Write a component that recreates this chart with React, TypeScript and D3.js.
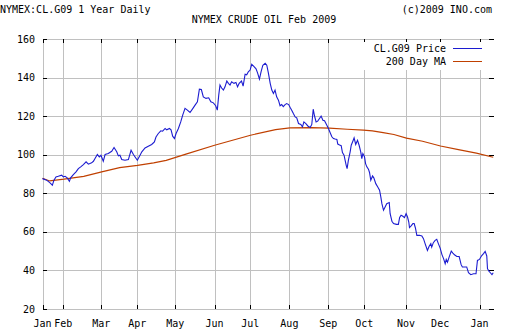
import React from "react";
import * as d3 from "d3";

// Trading-day index (0 = first session shown) and settle price
const priceDay = [0,2.3,4.2,5.5,6.4,7.5,8.8,10.7,11.6,12.6,13.8,15,15.7,17.2,18.7,20,21.3,22.8,24.3,25.6,27.4,28.4,29.3,30.6,31.7,32.6,33.9,34.9,36.7,38.6,39.9,41.4,42.3,43.2,44.2,46,47.9,49.4,50.7,52.9,54.4,55.4,57.2,59,60.9,62.4,63.3,64.6,66,67,68.4,
69.3,70.8,71.7,72.6,73.6,74.5,75.8,77.1,78.2,79.5,80.8,82.3,83.8,85.1,86.4,87.5,88.6,89.7,91.2,92.7,93.9,95.3,96.6,97.5,98.3,99,99.9,100.9,101.8,102.8,103.7,104.6,105.5,106.8,107.9,108.8,109.7,111,111.9,113,113.9,114.8,115.8,116.7,118,119.1,120,121,121.9,122.9,124.2,125.1,126,127,127.9,128.8,129.7,130.6,131.6,132.5,133.4,134.3,135.3,136.2,137.3,138.3,139,140,140.9,141.8,142.8,144.1,145,145.8,146.9,148,149.3,150.2,151,151.7,152.6,153.5,154.5,155.4,156.4,157.3,158.6,159.5,160.4,161.4,162.3,163.2,164.2,164.7,165.7,166.6,167.3,168.2,168.8,169.4,169.9,170.6,171.6,172.2,173.1,173.8,174.7,175.7,176.6,177.5,178.1,178.7,179.6,180.2,180.9,181.8,182.4,183.1,184.1,184.8,185.9,187,188,188.7,189.3,190.2,191.1,192,193.4,193.9,194.9,195.8,197.4,198.5,199.2,200,201,201.9,202.8,203.6,204.3,204.7,205.6,206.6,207.3,208,208.8,210.3,211.6,212.5,213.4,214.7,215.6,216.6,217.1,218,219,219.9,220.8,221.8,222.8,223.7,224.6,225.2,225.9,226.8,228,228.9,229.8,231.1,232.4,233.5,234.2,235.3,236.6,237.6,238.9,240.4,241.8,242.6,243.7,245,246,246.9,247.8,248.2,249.1,249.8,250.7,251.4];
const price = [87.6,86.8,85.4,84.2,86.8,88.5,88.8,89.4,88.5,88.8,88.0,86.2,88.0,89.7,91.1,92.8,93.7,94.9,96.3,95.1,95.8,96.6,98.0,100.1,98.9,99.7,96.6,100.1,100.6,101.8,103.7,101.5,99.4,99.7,97.5,97.1,97.5,102.3,100.1,97.1,99.7,101.5,103.5,104.4,105.3,106.6,109.2,111.0,112.4,112.2,113.6,
112.9,113.6,112.9,109.6,108.4,111.0,113.6,117.0,120.5,124.0,123.1,121.9,123.9,125.7,127.4,134.0,133.8,130.0,129.2,129.5,127.4,126.9,125.4,123.1,130.9,136.1,134.6,133.5,135.2,138.2,137.0,136.1,137.8,137.0,137.5,135.2,137.0,138.2,135.6,141.7,141.4,143.0,143.9,146.9,145.7,144.5,142.3,139.2,143.0,146.4,147.4,146.4,142.3,137.0,133.5,131.8,133.5,130.0,128.3,125.4,126.0,124.9,126.0,126.5,126.0,124.2,123.1,121.2,119.6,119.1,116.2,115.7,114.4,117.0,116.1,114.9,114.1,115.7,123.6,120.2,117.0,117.4,118.8,120.0,117.9,117.6,115.3,113.6,111.5,109.3,108.4,108.1,107.9,105.5,105.0,104.7,101.1,99.8,97.1,94.5,92.8,97.1,101.5,104.9,107.0,108.7,105.3,107.5,104.9,101.5,98.0,100.6,99.0,95.4,93.7,92.5,90.8,86.8,89.0,88.0,85.0,83.3,81.6,78.1,74.6,71.2,72.9,74.6,75.2,69.4,65.5,64.3,63.9,63.9,67.5,68.6,68.1,67.4,69.4,67.7,65.1,62.2,63.1,64.3,64.3,62.0,58.2,58.2,57.9,56.5,53.9,50.4,52.4,53.9,52.1,54.4,55.6,56.1,53.9,51.6,48.2,46.1,43.5,45.7,44.3,46.9,50.0,49.0,48.1,47.2,47.2,43.0,41.8,41.8,41.8,38.8,37.8,38.3,38.3,45.2,45.7,47.7,48.7,49.9,47.5,40.9,39.5,38.8,37.8,38.8];

// 200 day moving average
const maDay = [0,4,12,23,33,43,53,62,69,80,96,116,130,138,150,160,170,179,184,190,196,203,212,222,232,242,251.4];
const ma = [87.8,86.4,87.3,88.8,91.1,93.3,94.5,95.8,97.1,100.3,104.9,110.1,113.0,113.9,114.0,113.8,113.2,112.8,112.4,111.5,110.5,108.6,107.0,104.5,102.6,100.8,98.7];

// Month starts (trading-day index) and labels
const monthDay = [0,11.6,32.8,52.9,74,96,115.9,137.7,159.4,179.5,202.7,221.8,243.8];
const monthLabel = ["Jan","Feb","Mar","Apr","May","Jun","Jul","Aug","Sep","Oct","Nov","Dec","Jan"];
const yTicks = [20,40,60,80,100,120,140,160];

const W = 512, H = 336;
const FONT = "'DejaVu Sans Mono', monospace";

export default function App() {
  const x = d3.scaleLinear().domain([0, 252]).range([42.5, 494.3]);
  const y = d3.scaleLinear().domain([20, 160]).range([309, 39]);
  const left = 42.5, right = 494, top = 39, bottom = 309;

  const priceLine = d3.line<number>().x((_, i) => x(priceDay[i])).y((d) => y(d));
  const maLine = d3.line<number>().x((_, i) => x(maDay[i])).y((d) => y(d));

  const grid = "#c0c0c0";
  return (
    <svg width={W} height={H} style={{ position: "absolute", left: 0, top: 0, background: "#fff" }}
      fontFamily={FONT} fontSize={10}>
      <rect x={0} y={0} width={W} height={H} fill="#fff" />
      {/* horizontal grid */}
      {yTicks.map((t) => (
        <line key={"h" + t} x1={left} x2={right} y1={Math.round(y(t)) + 0.5} y2={Math.round(y(t)) + 0.5}
          stroke={grid} shapeRendering="crispEdges" />
      ))}
      {/* vertical grid */}
      {monthDay.map((d, i) => (
        <line key={"v" + i} x1={Math.round(x(d)) + 0.5} x2={Math.round(x(d)) + 0.5} y1={top} y2={bottom}
          stroke={grid} shapeRendering="crispEdges" />
      ))}
      {/* ticks */}
      {yTicks.map((t) => (
        <g key={"yt" + t}>
          <line x1={left} x2={left + 4.5} y1={Math.round(y(t)) + 0.5} y2={Math.round(y(t)) + 0.5} stroke="#000" shapeRendering="crispEdges" />
          <line x1={right - 5} x2={right} y1={Math.round(y(t)) + 0.5} y2={Math.round(y(t)) + 0.5} stroke="#000" shapeRendering="crispEdges" />
          <text x={35} y={y(t)} textAnchor="end" dominantBaseline="central" fill="#000">{t}</text>
        </g>
      ))}
      {monthDay.map((d, i) => (
        <g key={"xt" + i}>
          <line x1={Math.round(x(d)) + 0.5} x2={Math.round(x(d)) + 0.5} y1={top} y2={top + 4} stroke="#000" shapeRendering="crispEdges" />
          <line x1={Math.round(x(d)) + 0.5} x2={Math.round(x(d)) + 0.5} y1={bottom - 4} y2={bottom} stroke="#000" shapeRendering="crispEdges" />
          <text x={x(d)} y={327} textAnchor="middle" fill="#000">{monthLabel[i]}</text>
        </g>
      ))}
      {/* series */}
      <path d={maLine(ma) || ""} fill="none" stroke="#c04000" strokeWidth={1.2} />
      <path d={priceLine(price) || ""} fill="none" stroke="#1c1cd0" strokeWidth={1.1} />
      {/* legend */}
      <rect x={355} y={42} width={134} height={28} fill="#fff" />
      <text x={446} y={52} textAnchor="end" fill="#000">CL.G09 Price</text>
      <text x={446} y={65} textAnchor="end" fill="#000">200 Day MA</text>
      <line x1={453} x2={482} y1={48.5} y2={48.5} stroke="#1c1cd0" shapeRendering="crispEdges" />
      <line x1={453} x2={482} y1={61.5} y2={61.5} stroke="#c04000" shapeRendering="crispEdges" />
      {/* titles */}
      <text x={0} y={13} fill="#000">NYMEX:CL.G09 1 Year Daily</text>
      <text x={492} y={13} textAnchor="end" fill="#000">(c)2009 INO.com</text>
      <text x={264} y={23} textAnchor="middle" fill="#000">NYMEX CRUDE OIL Feb 2009</text>
    </svg>
  );
}
